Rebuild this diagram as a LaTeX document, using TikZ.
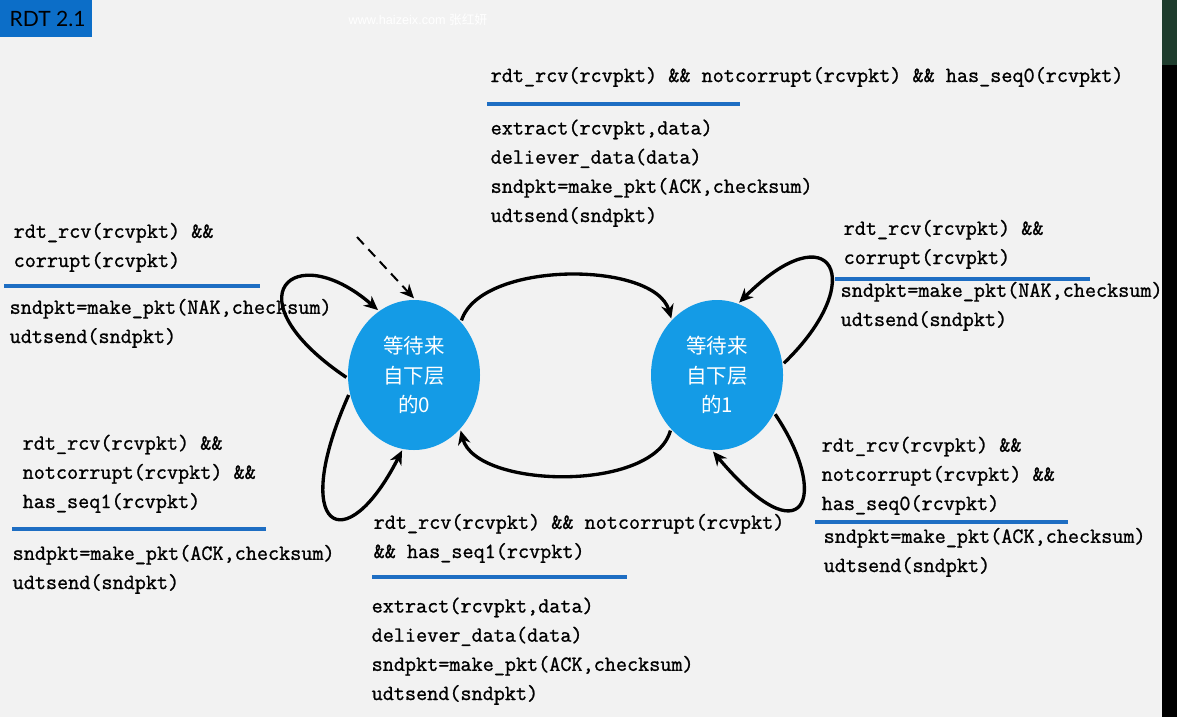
\documentclass[tikz,border=0pt]{standalone}
\usepackage{fontspec}
\setmainfont{Liberation Serif}
\newfontfamily\codefont[FakeBold=1.1]{Latin Modern Mono}
\newfontfamily\cjk{Noto Sans CJK SC}
\newfontfamily\titlefont{Lato}
\newfontfamily\marksans{Liberation Sans}
\usetikzlibrary{shapes.geometric,arrows.meta,positioning}
\definecolor{stateblue}{RGB}{20,155,230}
\definecolor{ruleblue}{RGB}{30,110,195}
\definecolor{tabblue}{RGB}{12,110,200}
\definecolor{slidebg}{RGB}{242,242,242}
\definecolor{edgegreen}{RGB}{30,60,45}

\begin{document}
\begin{tikzpicture}[
	x=0.03cm,
	y=0.03cm,
	node distance=9.09cm,
	on grid,
	line width=0.1cm,
	>={Stealth[length=0.42cm,width=0.38cm]},
	state/.style={
		ellipse,
		fill=stateblue,
		minimum width=3.96cm,
		minimum height=4.5cm,
		inner sep=0pt,
		align=center,
		text=white,
		font=\cjk\fontsize{17.5}{25.5}\selectfont
	},
	cond/.style={
		anchor=base west,
		inner sep=0pt,
		align=left,
		font=\codefont\fontsize{18.4}{24.9}\selectfont
	},
	rule/.style={ruleblue, line width=0.1cm}]

	% slide
	\useasboundingbox (0,0) rectangle (1177,-717);
	\fill[slidebg] (0,0) rectangle (1177,-717);
	\fill[black] (1162,0) rectangle (1177,-717);
	\fill[edgegreen] (1162,0) rectangle (1177,-65);
	\fill[tabblue] (0,0) rectangle (92,-37);
	\node[anchor=west, inner sep=0pt, font=\titlefont\fontsize{18}{18}\selectfont] (title) at (8,-19) {RDT 2.1};
	\node[anchor=west, inner sep=0pt, text=white, font=\marksans\fontsize{10.8}{12}\selectfont] (mark) at (347,-20) {www.haizeix.com {\cjk 张红妍}};

	% states
	\node[state] (q_0) at (414,-375) {等待来\\自下层\\的0};
	\node[state, right=of q_0] (q_1) {等待来\\自下层\\的1};

	\coordinate (start) at (357,-237);
	\draw[->, dashed, line width=0.06cm, dash pattern=on 0.3cm off 0.2cm] (start) -- (q_0.90);

	\path[->]
		(q_0.49) edge[out=72, in=106, out distance=1.9cm, in distance=1.81cm] (q_1.129)
		(q_1.230) edge[out=255, in=285, out distance=1.93cm, in distance=1.81cm] (q_0.310)
		(q_0.182) edge[out=146, in=139, out distance=4.28cm, in distance=3.36cm] (q_0.119)
		(q_0.197) edge[out=246, in=243, out distance=4.43cm, in distance=3.77cm] (q_0.261)
		(q_1.10) edge[out=44, in=45, out distance=3.61cm, in distance=3.9cm] (q_1.73)
		(q_1.326) edge[out=304, in=310, out distance=2.99cm, in distance=4.26cm] (q_1.267);

	% q_0 -> q_1 (top)
	\node[cond] (g_top) at (489,-82) {rdt\_rcv(rcvpkt) \&\& notcorrupt(rcvpkt) \&\& has\_seq0(rcvpkt)};
	\draw[rule] (487,-104) -- (740,-104);
	\node[cond] (a_top) at (489,-222) {extract(rcvpkt,data)\\deliever\_data(data)\\sndpkt=make\_pkt(ACK,checksum)\\udtsend(sndpkt)};

	% q_0 loops
	\node[cond] (g_l0) at (12,-267) {rdt\_rcv(rcvpkt) \&\&\\corrupt(rcvpkt)};
	\draw[rule] (4,-286) -- (260,-286);
	\node[cond] (a_l0) at (8,-343) {sndpkt=make\_pkt(NAK,checksum)\\udtsend(sndpkt)};

	\node[cond] (g_l1) at (21,-508) {rdt\_rcv(rcvpkt) \&\&\\notcorrupt(rcvpkt) \&\&\\has\_seq1(rcvpkt)};
	\draw[rule] (12,-529) -- (266,-529);
	\node[cond] (a_l1) at (11,-589) {sndpkt=make\_pkt(ACK,checksum)\\udtsend(sndpkt)};

	% q_1 loops
	\node[cond] (g_r0) at (842,-264) {rdt\_rcv(rcvpkt) \&\&\\corrupt(rcvpkt)};
	\draw[rule] (835,-279) -- (1090,-279);
	\node[cond] (a_r0) at (839,-326) {sndpkt=make\_pkt(NAK,checksum)\\udtsend(sndpkt)};

	\node[cond] (g_r1) at (820,-510) {rdt\_rcv(rcvpkt) \&\&\\notcorrupt(rcvpkt) \&\&\\has\_seq0(rcvpkt)};
	\draw[rule] (815,-522) -- (1068,-522);
	\node[cond] (a_r1) at (822,-572) {sndpkt=make\_pkt(ACK,checksum)\\udtsend(sndpkt)};

	% q_1 -> q_0 (bottom)
	\node[cond] (g_bot) at (372,-558) {rdt\_rcv(rcvpkt) \&\& notcorrupt(rcvpkt)\\\&\& has\_seq1(rcvpkt)};
	\draw[rule] (372,-577) -- (627,-577);
	\node[cond] (a_bot) at (370,-700) {extract(rcvpkt,data)\\deliever\_data(data)\\sndpkt=make\_pkt(ACK,checksum)\\udtsend(sndpkt)};
\end{tikzpicture}
\end{document}
